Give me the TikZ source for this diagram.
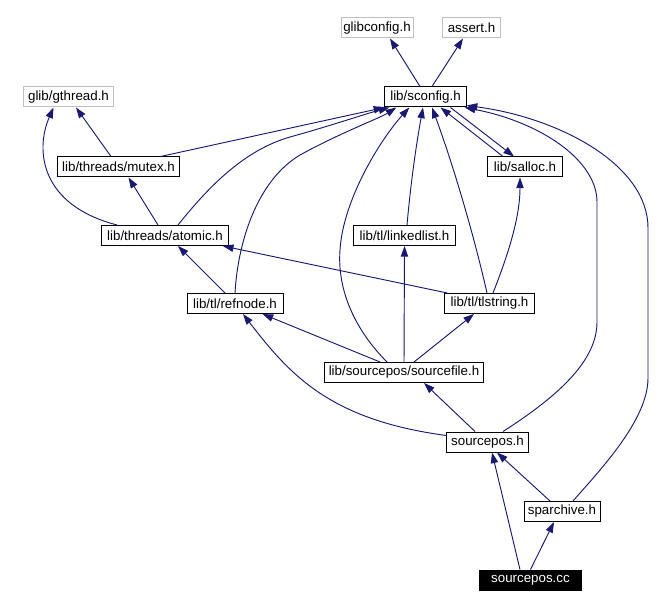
\documentclass[tikz,border=0pt]{standalone}
\usepackage{fontspec}
\setmainfont{Liberation Sans}
\usetikzlibrary{arrows.meta,calc}
\definecolor{edgeblue}{HTML}{191970}
\definecolor{extgray}{HTML}{BFBFBF}
\begin{document}
\begin{tikzpicture}[x=0.75pt,y=-0.75pt,
  box/.style={draw=black, line width=0.75pt, minimum height=15pt, inner sep=0pt,
    font=\fontsize{10}{11}\selectfont, fill=white},
  extbox/.style={box, draw=extgray},
  edge/.style={draw=edgeblue, line width=0.7pt, -{Triangle[length=8pt,width=5.5pt]}}]
\useasboundingbox (0,0) rectangle (666,609);
\fill[white] (0,0) rectangle (666,609);

% nodes
\node[extbox, minimum width=54pt] (glibconfig) at (377,28) {glibconfig.h};
\node[extbox, minimum width=43pt] (assert) at (471.5,28) {assert.h};
\node[box, minimum width=61pt] (sconfig) at (425.5,97) {lib/sconfig.h};
\node[extbox, minimum width=67pt] (gthread) at (68.5,97) {glib/gthread.h};
\node[box, minimum width=92pt] (mutex) at (118.5,167) {lib/threads/mutex.h};
\node[box, minimum width=56pt] (salloc) at (525,167) {lib/salloc.h};
\node[box, minimum width=95pt] (atomic) at (165,235.5) {lib/threads/atomic.h};
\node[box, minimum width=77pt] (linkedlist) at (404.5,235.5) {lib/tl/linkedlist.h};
\node[box, minimum width=72pt] (refnode) at (235,303.5) {lib/tl/refnode.h};
\node[box, minimum width=67pt] (tlstring) at (489.5,303.5) {lib/tl/tlstring.h};
\node[box, minimum width=119pt] (sourcefile) at (404,372.5) {lib/sourcepos/sourcefile.h};
\node[box, minimum width=61pt] (sourcepos) at (487.5,442) {sourcepos.h};
\node[box, minimum width=57pt] (sparchive) at (562,511.5) {sparchive.h};
\node[box, minimum width=76pt, fill=black, text=white] (sourceposcc) at (530.5,580) {sourcepos.cc};

% edges
\draw[edge] ($(sconfig.north)+(-5.5,0)$) -- ($(glibconfig.south)+(13,0)$);
\draw[edge] ($(sconfig.north)+(6.5,0)$) -- ($(assert.south)+(-8.5,0)$);
\draw[edge] ($(mutex.north)+(-7.5,0)$) -- ($(gthread.south)+(7.5,0)$);
\draw[edge] ($(atomic.north)+(-48,0)$) .. controls (40,205) and (35,150) .. ($(gthread.south)+(-15,0)$);
\draw[edge] ($(atomic.north)+(-7,0)$) -- ($(mutex.south)+(10,0)$);
\draw[edge] ($(mutex.north)+(42,0)$) -- (sconfig.south west);
\draw[edge] ($(atomic.north)+(13,0)$) .. controls (210,185) and (245,150) .. (290,137)
  .. controls (330,126) and (365,114) .. ($(sconfig.south west)+(5,0)$);
\draw[edge] (refnode.north) .. controls (238,240) and (258,180) .. (300,155)
  .. controls (340,133) and (380,118) .. ($(sconfig.south west)+(12,0)$);
\draw[edge] ($(sourcefile.north)+(-17,0)$) .. controls (355,330) and (337,290) .. (340,250)
  .. controls (343,200) and (380,140) .. ($(sconfig.south west)+(25,0)$);
\draw[edge] ($(linkedlist.north)+(2.5,0)$) .. controls (411,180) and (417,140) .. ($(sconfig.south)+(-2.5,0)$);
\draw[edge] ($(tlstring.north)+(-2.5,0)$) .. controls (475,240) and (455,170) .. ($(sconfig.south)+(6.5,0)$);
\draw[edge] ($(salloc.north)+(-22,0)$) -- ($(sconfig.south)+(15,0)$);
\draw[edge] ($(sconfig.south)+(25,0)$) -- ($(salloc.north)+(-11,0)$);
\draw[edge] ($(tlstring.north)+(3.5,0)$) .. controls (510,250) and (520,215) .. ($(salloc.south)+(-5,0)$);
\draw[edge] ($(tlstring.north west)+(3,0)$) -- ($(atomic.south east)+(-6,0)$);
\draw[edge] ($(refnode.north)+(-10,0)$) -- ($(atomic.south)+(13,0)$);
\draw[edge] ($(sourcefile.north)+(-24,0)$) -- ($(refnode.south east)+(-21,0)$);
\draw[edge] (sourcefile.north) -- (linkedlist.south);
\draw[edge] ($(sourcefile.north)+(10,0)$) -- ($(tlstring.south)+(-15.5,0)$);
\draw[edge] ($(sourcepos.north)+(15.5,0)$) .. controls (560,395) and (597,360) .. (597,322)
  -- (597,202) .. controls (597,160) and (540,122) .. ($(sconfig.south east)+(-2,0)$);
\draw[edge] ($(sparchive.north)+(11,0)$) .. controls (600,470) and (648,420) .. (648,378)
  -- (648,228) .. controls (648,165) and (560,118) .. ($(sconfig.south east)+(0,-2)$);
\draw[edge] ($(sourcepos.north)+(-12.5,0)$) -- ($(sourcefile.south)+(20,0)$);
\draw[edge] ($(sourcepos.north west)+(0,4)$) .. controls (330,420) and (290,375) .. ($(refnode.south)+(8,0)$);
\draw[edge] ($(sparchive.north)+(-12,0)$) -- ($(sourcepos.south)+(9.5,0)$);
\draw[edge] ($(sourceposcc.north)+(-10.5,0)$) -- ($(sourcepos.south)+(4.5,0)$);
\draw[edge] (sourceposcc.north) -- ($(sparchive.south)+(-8,0)$);
\end{tikzpicture}
\end{document}
